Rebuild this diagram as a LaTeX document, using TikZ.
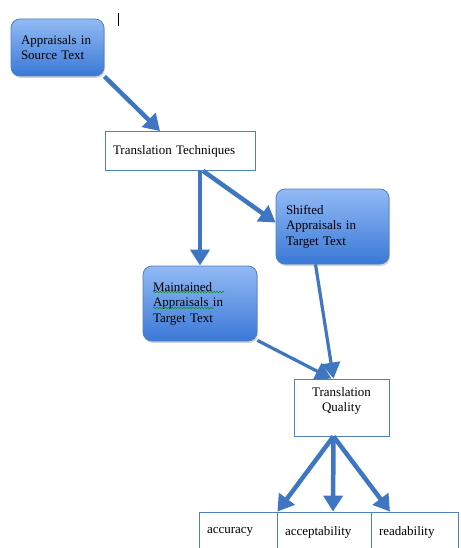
\documentclass[tikz,border=0pt]{standalone}
\usepackage{fontspec}
\setmainfont{Liberation Serif}
\usetikzlibrary{arrows.meta,shadows,decorations.pathmorphing}
\definecolor{flowBlue}{RGB}{62,118,194}
\definecolor{flowEdge}{RGB}{79,129,189}
\definecolor{flowTop}{RGB}{146,186,245}
\definecolor{flowBottom}{RGB}{58,120,214}
\begin{document}
\begin{tikzpicture}[x=1pt, y=-1pt,
  font=\fontsize{13}{15.5}\selectfont,
  roundbox/.style={draw=flowEdge, line width=0.8pt, rounded corners=9pt,
    top color=flowTop, bottom color=flowBottom, align=left,
    inner xsep=10pt, inner ysep=0pt,
    drop shadow={opacity=0.35, shadow xshift=1pt, shadow yshift=-2pt}},
  plainbox/.style={draw=flowEdge, line width=0.8pt, fill=white,
    inner xsep=8pt, inner ysep=0pt},
  flow/.style={draw=flowBlue, line width=4.5pt,
    -{Triangle[length=16pt, width=19pt]}},
  thinflow/.style={draw=flowBlue, line width=3.2pt,
    -{Triangle[length=16pt, width=18pt]}}]
% page frame
\useasboundingbox (0,0) rectangle (460,548);
\clip (0,0) rectangle (460,548);
% text cursor
\draw[line width=0.8pt] (118,13) -- (118,26);
% Boxes
\node[roundbox, minimum width=93pt, minimum height=57pt, text width=73pt]
  (src) at (57.5,47.5) {Appraisals in\\Source Text};
\node[plainbox, minimum width=150pt, minimum height=39pt, text width=134pt, align=left]
  (tech) at (180,151) {Translation Techniques};
\node[roundbox, minimum width=113pt, minimum height=75pt, text width=93pt]
  (shf) at (332.5,226.5) {Shifted\\Appraisals in\\Target Text};
\node[roundbox, minimum width=114pt, minimum height=75pt, text width=94pt]
  (mnt) at (200,303.5) {Maintained\\Appraisals in\\Target Text};
\node[plainbox, minimum width=95pt, minimum height=57pt, align=center]
  (tq) at (341.5,407.5) {Translation\\Quality\\[1pt]};
% Bottom row, cut by the page edge
\node[plainbox, minimum width=78pt, minimum height=40pt, text width=62pt, align=left]
  (acc) at (238,532) {accuracy\\[6pt]};
\node[plainbox, minimum width=94pt, minimum height=40pt, text width=78pt, align=left]
  (acp) at (324,532) {acceptability\\[6pt]};
\node[plainbox, minimum width=87pt, minimum height=40pt, text width=71pt, align=left]
  (rdb) at (414.5,532) {readability\\[6pt]};
% spelling marks
\begin{scope}[draw=green!60!black, line width=0.5pt,
  decorate, decoration={snake, amplitude=0.8pt, segment length=3pt}]
  \draw[decorate] (153,292) -- (224,292);
  \draw[decorate] (153,308) -- (214,308);
\end{scope}
% Connectors
\draw[flow] (src.south east) -- ([xshift=-20pt]tech.north);
\draw[flow] ([xshift=20pt]tech.south) -- (mnt.north);
\draw[flow] ([xshift=23pt]tech.south) -- ([yshift=4pt]shf.west);
\draw[thinflow] ([xshift=-17pt]shf.south) -- ([xshift=-8pt]tq.north);
\draw[thinflow] ([yshift=1pt]mnt.south east) -- ([xshift=-10pt]tq.north);
\draw[flow] ([xshift=-8pt]tq.south) -- (acc.north east);
\draw[flow] ([xshift=-8pt]tq.south) -- ([xshift=9pt]acp.north);
\draw[flow] ([xshift=-8pt]tq.south) -- ([xshift=-24.5pt]rdb.north);
\end{tikzpicture}
\end{document}
